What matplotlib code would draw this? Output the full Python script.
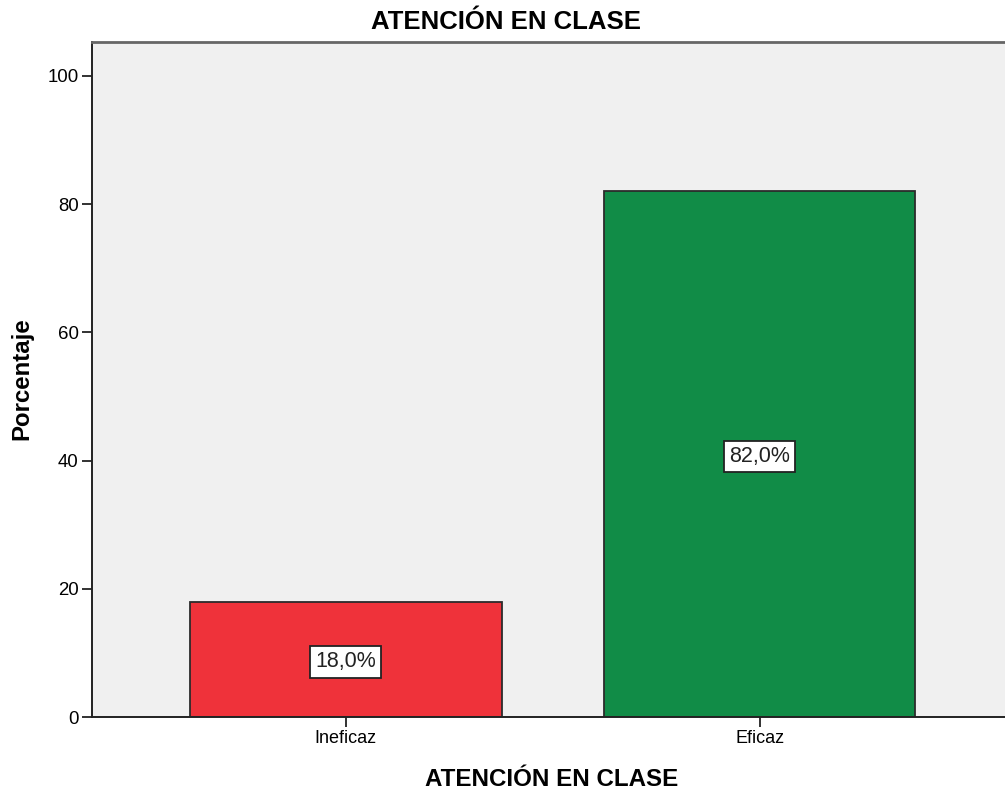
import matplotlib.pyplot as plt

plt.rcParams['font.family'] = ['Liberation Sans', 'DejaVu Sans']

categories = ['Ineficaz', 'Eficaz']
porcentajes = [18.0, 82.0]
bar_colors = ['#EF323A', '#118C47']
yticks = [0, 20, 40, 60, 80, 100]
titulo = 'ATENCIÓN EN CLASE'

W, H = 1005, 791
fig = plt.figure(figsize=(W / 100, H / 100), dpi=100)
ax = fig.add_axes([92 / W, 1 - 717 / H, 1 - 92 / W, (717 - 42) / H])
ax.set_facecolor('#F0F0F0')

x = list(range(len(categories)))
ax.bar(x, porcentajes, width=0.753, color=bar_colors,
       edgecolor='#2b2b2b', linewidth=1.3, zorder=2)

# etiquetas en el centro de cada barra
for xi, v in zip(x, porcentajes):
    ax.text(xi, v / 2 - 0.4, f'{v:.1f}%'.replace('.', ','), ha='center', va='center',
            fontsize=15.5, color='#222222', zorder=3,
            bbox=dict(boxstyle='square,pad=0.24', facecolor='white',
                      edgecolor='#222222', linewidth=1.3))

ax.set_xlim(-0.6135, 1.593)
ax.set_ylim(0, 105.3)
ax.set_xticks(x)
ax.set_xticklabels(categories, fontsize=13)
ax.set_yticks(yticks)
ax.set_yticklabels([str(t) for t in yticks], fontsize=13.4)
ax.tick_params(axis='both', direction='out', length=7.5, width=1.3,
               color='#222222', pad=2)

for side in ['left', 'bottom']:
    ax.spines[side].set_color('#222222')
    ax.spines[side].set_linewidth(1.4)
ax.spines['top'].set_color('#666666')
ax.spines['top'].set_linewidth(2)
ax.spines['right'].set_visible(False)

fig.text(506 / W, 1 - 22 / H, titulo, ha='center', va='center',
         fontsize=18.5, fontweight='bold')
fig.text(552 / W, 1 - 780 / H, titulo, ha='center', va='center',
         fontsize=17.4, fontweight='bold')
fig.text(22 / W, 1 - 378.5 / H, 'Porcentaje', ha='center', va='center',
         rotation=90, fontsize=17.3, fontweight='bold')

fig.savefig('out.png', dpi=100)
